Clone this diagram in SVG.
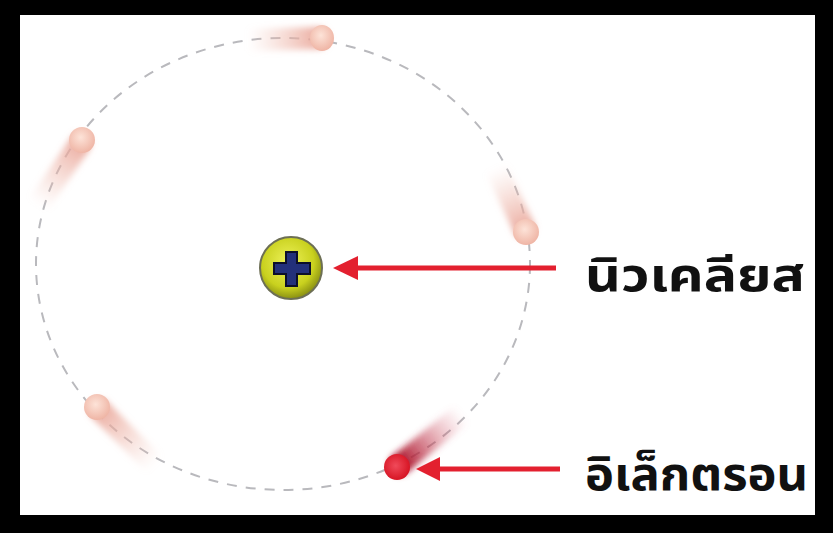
<svg xmlns="http://www.w3.org/2000/svg" width="833" height="533" viewBox="0 0 833 533">
  <style>
    .orbit { fill: none; stroke: #b9b9bd; stroke-width: 2; stroke-dasharray: 10 9; }
    .arrow-line { stroke: #e3202f; stroke-width: 5; }
    .arrow-head { fill: #e3202f; }
    .label { font-family: "Noto Sans Thai", "Noto Sans", "DejaVu Sans", sans-serif; font-weight: bold; font-size: 46px; fill: #111; }
    .trail { fill: none; stroke-width: 22; stroke-linecap: round; }
  </style>
  <defs>
    <filter id="blur" filterUnits="userSpaceOnUse" x="0" y="0" width="833" height="533">
      <feGaussianBlur stdDeviation="3"/>
    </filter>
    <radialGradient id="paleElectron" cx="45%" cy="40%" r="60%">
      <stop offset="0" stop-color="#fde3d8"/>
      <stop offset="1" stop-color="#efb5a5"/>
    </radialGradient>
    <radialGradient id="redElectron" cx="45%" cy="45%" r="60%">
      <stop offset="0" stop-color="#f04a5a"/>
      <stop offset="1" stop-color="#d5101f"/>
    </radialGradient>
    <radialGradient id="nucleusFill" cx="45%" cy="40%" r="60%">
      <stop offset="0" stop-color="#eef25a"/>
      <stop offset="0.7" stop-color="#c9d11e"/>
      <stop offset="1" stop-color="#8a9012"/>
    </radialGradient>
    <linearGradient id="trailTop" gradientUnits="userSpaceOnUse" x1="248" y1="40" x2="318" y2="38">
      <stop offset="0" stop-color="#f2c4b8" stop-opacity="0"/>
      <stop offset="1" stop-color="#e9a598" stop-opacity="0.9"/>
    </linearGradient>
    <linearGradient id="trailRight" gradientUnits="userSpaceOnUse" x1="496" y1="168" x2="524" y2="228">
      <stop offset="0" stop-color="#f2c4b8" stop-opacity="0"/>
      <stop offset="1" stop-color="#e9a598" stop-opacity="0.9"/>
    </linearGradient>
    <linearGradient id="trailLeft" gradientUnits="userSpaceOnUse" x1="38" y1="205" x2="80" y2="144">
      <stop offset="0" stop-color="#f2c4b8" stop-opacity="0"/>
      <stop offset="1" stop-color="#e9a598" stop-opacity="0.9"/>
    </linearGradient>
    <linearGradient id="trailLowerLeft" gradientUnits="userSpaceOnUse" x1="155" y1="465" x2="100" y2="410">
      <stop offset="0" stop-color="#f2c4b8" stop-opacity="0"/>
      <stop offset="1" stop-color="#e9a598" stop-opacity="0.9"/>
    </linearGradient>
    <linearGradient id="trailRed" gradientUnits="userSpaceOnUse" x1="462" y1="414" x2="400" y2="464">
      <stop offset="0" stop-color="#e07a8a" stop-opacity="0"/>
      <stop offset="1" stop-color="#a80c24" stop-opacity="1"/>
    </linearGradient>
  </defs>

  <!-- frame -->
  <rect x="0" y="0" width="833" height="533" fill="#000"/>
  <rect x="20" y="15" width="795" height="500" fill="#fff"/>

  <!-- orbit -->
  <g id="orbit">
    <ellipse class="orbit" cx="283" cy="264" rx="247" ry="226"/>
  </g>

  <!-- electrons with motion trails -->
  <g id="electron-top">
    <line class="trail" x1="248" y1="40" x2="318" y2="38" stroke="url(#trailTop)" stroke-width="20" filter="url(#blur)"/>
    <ellipse cx="322" cy="38" rx="12" ry="13" fill="url(#paleElectron)"/>
  </g>
  <g id="electron-right">
    <line class="trail" x1="496" y1="168" x2="524" y2="228" stroke="url(#trailRight)" filter="url(#blur)"/>
    <circle cx="526" cy="232" r="13" fill="url(#paleElectron)"/>
  </g>
  <g id="electron-left">
    <line class="trail" x1="38" y1="205" x2="80" y2="144" stroke="url(#trailLeft)" filter="url(#blur)"/>
    <circle cx="82" cy="140" r="13" fill="url(#paleElectron)"/>
  </g>
  <g id="electron-lower-left">
    <line class="trail" x1="155" y1="465" x2="100" y2="410" stroke="url(#trailLowerLeft)" filter="url(#blur)"/>
    <circle cx="97" cy="407" r="13" fill="url(#paleElectron)"/>
  </g>
  <g id="electron-red">
    <line class="trail" x1="462" y1="414" x2="400" y2="464" stroke="url(#trailRed)" stroke-width="20" filter="url(#blur)"/>
    <circle cx="397" cy="467" r="13" fill="url(#redElectron)"/>
  </g>

  <!-- nucleus -->
  <g id="nucleus">
    <circle cx="291" cy="268" r="31" fill="url(#nucleusFill)" stroke="#6d6f55" stroke-width="2"/>
    <path d="M286 252 h11 v11 h13 v11 h-13 v12 h-11 v-12 h-12 v-11 h12 z" fill="#23307a" stroke="#0c0f2a" stroke-width="2"/>
  </g>

  <!-- connectors -->
  <g id="connectors">
    <line class="arrow-line" x1="352" y1="268" x2="556" y2="268"/>
    <polygon class="arrow-head" points="333,268 358,256 358,280"/>
    <line class="arrow-line" x1="432" y1="469" x2="560" y2="469"/>
    <polygon class="arrow-head" points="416,469 440,457 440,481"/>
  </g>

  <!-- labels -->
  <g id="label-nucleus">
    <text class="label" x="585" y="291" textLength="220" lengthAdjust="spacingAndGlyphs">นิวเคลียส</text>
  </g>
  <g id="label-electron">
    <text class="label" x="585" y="490" textLength="223" lengthAdjust="spacingAndGlyphs">อิเล็กตรอน</text>
  </g>
</svg>
